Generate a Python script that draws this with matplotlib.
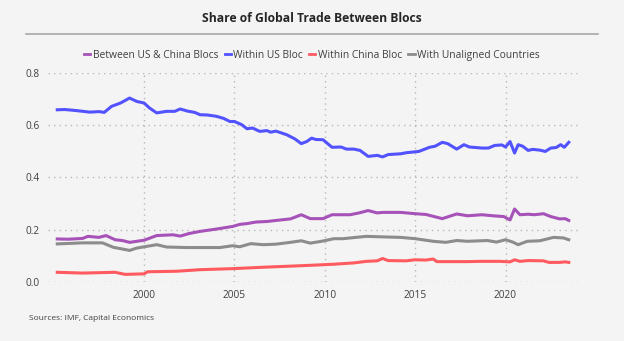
import matplotlib
matplotlib.use("Agg")
import matplotlib.pyplot as plt
from matplotlib.lines import Line2D

plt.rcParams['font.family'] = ['Open Sans', 'DejaVu Sans']

# Share of global trade by bloc pairing (fraction of total)
between_t = [1995.2, 1995.8, 1996.6, 1996.9, 1997.5, 1997.9, 1998.4, 1998.8, 1999.2, 2000.0,
             2000.7, 2001.6, 2002.0, 2002.5, 2003.1, 2004.0, 2004.9, 2005.3, 2005.7, 2006.2,
             2006.8, 2007.3, 2008.1, 2008.7, 2009.2, 2009.9, 2010.4, 2011.4, 2011.9, 2012.4,
             2012.9, 2013.2, 2014.2, 2015.0, 2015.6, 2016.5, 2017.3, 2017.9, 2018.7, 2019.3,
             2019.9, 2020.25, 2020.5, 2020.8, 2021.25, 2021.6, 2022.1, 2022.5, 2023.0, 2023.3,
             2023.5]
between_v = [0.164, 0.163, 0.166, 0.174, 0.170, 0.177, 0.161, 0.158, 0.151, 0.159,
             0.177, 0.180, 0.175, 0.185, 0.193, 0.202, 0.212, 0.220, 0.223, 0.229,
             0.231, 0.235, 0.241, 0.257, 0.242, 0.242, 0.257, 0.257, 0.264, 0.273,
             0.264, 0.266, 0.266, 0.261, 0.258, 0.242, 0.260, 0.253, 0.257, 0.253,
             0.250, 0.237, 0.279, 0.257, 0.259, 0.257, 0.261, 0.250, 0.241, 0.242,
             0.235]

us_t = [1995.2, 1995.6, 1996.1, 1996.5, 1997.0, 1997.5, 1997.8, 1998.2, 1998.7, 1999.2,
        1999.6, 2000.0, 2000.3, 2000.7, 2001.25, 2001.7, 2002.0, 2002.4, 2002.8, 2003.1,
        2003.5, 2004.0, 2004.4, 2004.75, 2005.0, 2005.4, 2005.7, 2006.0, 2006.4, 2006.8,
        2007.0, 2007.3, 2007.9, 2008.35, 2008.7, 2009.0, 2009.27, 2009.5, 2009.9, 2010.4,
        2010.9, 2011.2, 2011.6, 2011.95, 2012.4, 2012.9, 2013.2, 2013.5, 2014.2, 2014.5,
        2015.2, 2015.8, 2016.1, 2016.5, 2016.8, 2017.3, 2017.7, 2018.0, 2018.7, 2019.05,
        2019.4, 2019.8, 2020.0, 2020.25, 2020.5, 2020.7, 2020.95, 2021.25, 2021.5, 2021.9,
        2022.2, 2022.5, 2022.8, 2023.05, 2023.25, 2023.5]
us_v = [0.660, 0.661, 0.658, 0.655, 0.651, 0.653, 0.650, 0.673, 0.686, 0.705,
        0.692, 0.686, 0.667, 0.648, 0.654, 0.654, 0.663, 0.655, 0.650, 0.641,
        0.640, 0.635, 0.627, 0.615, 0.615, 0.603, 0.587, 0.590, 0.577, 0.580,
        0.574, 0.578, 0.564, 0.548, 0.530, 0.538, 0.551, 0.546, 0.545, 0.516,
        0.517, 0.509, 0.509, 0.504, 0.481, 0.485, 0.479, 0.488, 0.491, 0.495,
        0.500, 0.516, 0.520, 0.535, 0.530, 0.509, 0.526, 0.517, 0.513, 0.513,
        0.523, 0.525, 0.517, 0.538, 0.494, 0.526, 0.520, 0.504, 0.508, 0.505,
        0.500, 0.513, 0.515, 0.526, 0.516, 0.535]

china_t = [1995.2, 1996.6, 1998.4, 1998.95, 2000.0, 2000.2, 2001.8, 2003.1, 2004.9, 2006.8,
           2008.6, 2009.9, 2010.5, 2011.6, 2012.3, 2012.9, 2013.2, 2013.5, 2014.5, 2015.0,
           2015.6, 2016.0, 2016.2, 2017.9, 2018.6, 2019.7, 2020.25, 2020.5, 2020.8, 2021.25,
           2022.1, 2022.4, 2023.0, 2023.3, 2023.5]
china_v = [0.036, 0.033, 0.036, 0.028, 0.030, 0.038, 0.040, 0.046, 0.050, 0.056,
           0.061, 0.065, 0.067, 0.072, 0.078, 0.080, 0.089, 0.081, 0.080, 0.084,
           0.083, 0.087, 0.077, 0.077, 0.078, 0.078, 0.076, 0.084, 0.078, 0.081,
           0.080, 0.074, 0.074, 0.076, 0.074]

unaligned_t = [1995.2, 1996.6, 1997.7, 1998.3, 1999.2, 1999.6, 2000.7, 2001.25, 2002.4, 2004.2,
               2004.9, 2005.3, 2005.9, 2006.6, 2007.3, 2008.1, 2008.7, 2009.2, 2009.9, 2010.5,
               2011.0, 2012.3, 2013.2, 2014.2, 2015.0, 2016.0, 2016.7, 2017.3, 2017.9, 2019.0,
               2019.5, 2020.0, 2020.4, 2020.7, 2021.2, 2021.9, 2022.65, 2023.2, 2023.5]
unaligned_v = [0.145, 0.149, 0.149, 0.132, 0.120, 0.129, 0.142, 0.133, 0.131, 0.131,
               0.138, 0.134, 0.146, 0.142, 0.144, 0.151, 0.157, 0.148, 0.156, 0.165,
               0.165, 0.174, 0.172, 0.170, 0.165, 0.155, 0.151, 0.158, 0.155, 0.158,
               0.152, 0.161, 0.152, 0.142, 0.155, 0.157, 0.170, 0.168, 0.161]

series_names = ["Between US & China Blocs", "Within US Bloc", "Within China Bloc",
                "With Unaligned Countries"]
series_colors = ["#a652b8", "#5252ff", "#ff5a5f", "#8c8c8c"]

x_ticks = [2000, 2005, 2010, 2015, 2020]
y_ticks = [0.0, 0.2, 0.4, 0.6, 0.8]

bg = "#f4f4f4"
fig = plt.figure(figsize=(6.24, 3.41), dpi=100, facecolor=bg)
ax = fig.add_axes([0.077, 0.174, 0.849, 0.611], facecolor=bg)

series = [(between_t, between_v), (us_t, us_v), (china_t, china_v), (unaligned_t, unaligned_v)]
for (t, v), name, c in zip(series, series_names, series_colors):
    ax.plot(t, v, color=c, lw=2.2, label=name, solid_joinstyle="round")

ax.set_xlim(1994.69, 2024.0)
ax.set_ylim(0.0, 0.8)
ax.set_xticks(x_ticks)
ax.set_yticks(y_ticks)
ax.set_yticklabels([f"{v:.1f}" for v in y_ticks])
ax.grid(True, color="#b8b8b8", linestyle=(0, (1, 3)), linewidth=1.0)
ax.set_axisbelow(True)
for s in ax.spines.values():
    s.set_visible(False)
ax.tick_params(length=0, labelsize=7.3, colors="#404040", pad=6)

fig.text(0.5, 0.945, "Share of Global Trade Between Blocs", ha="center", va="center",
         fontsize=8.7, fontweight="bold", color="#262626")
fig.add_artist(Line2D([0.042, 0.958], [0.90, 0.90], color="#a6a6a6", lw=1.2,
                      transform=fig.transFigure))

handles = [Line2D([0], [0], color=c, lw=2) for c in series_colors]
fig.legend(handles, series_names, loc="center", bbox_to_anchor=(0.5, 0.838), ncol=4,
           frameon=False, fontsize=7.4, handlelength=0.6, handletextpad=0.25,
           columnspacing=0.6, labelcolor="#404040")

fig.text(0.047, 0.066, "Sources: IMF, Capital Economics", ha="left", va="center",
         fontsize=6.0, color="#404040")

fig.savefig("out.png", dpi=100, facecolor=bg)
